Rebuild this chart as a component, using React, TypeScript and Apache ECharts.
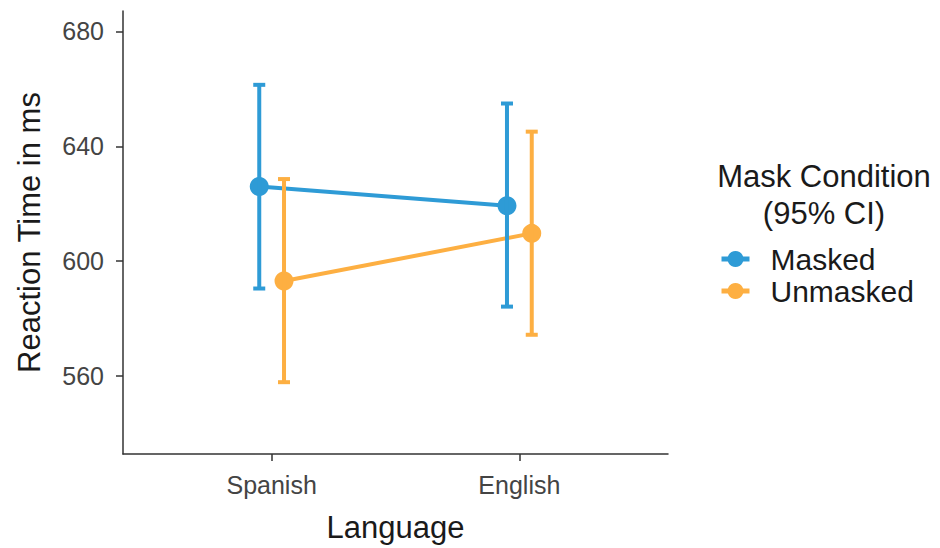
import React, { useEffect, useRef } from "react";
import * as echarts from "echarts";

const languages = ["Spanish", "English"];
const conditions = ["Masked", "Unmasked"];
const dodge = [-0.05, 0.05];
const means = [
  [626.0, 619.3],
  [593.1, 609.7],
];
const lower = [
  [590.5, 584.2],
  [557.9, 574.4],
];
const upper = [
  [661.4, 654.9],
  [628.6, 645.1],
];
const yTicks = [560, 600, 640, 680];
const legendTitle = ["Mask Condition", "(95% CI)"];
const colors = ["#2E9BD6", "#FDAF42"];

export default function App() {
  const ref = useRef<HTMLDivElement>(null);
  useEffect(() => {
    document.body.style.margin = "0";
    if (!ref.current) return;
    const chart = echarts.init(ref.current, null, { renderer: "svg" });
    const font = "Liberation Sans, Arial, sans-serif";
    const lineSeries: any[] = conditions.map((c, ci) => ({
      name: c,
      type: "line",
      z: 1,
      data: languages.map((_, li) => [li + 1 + dodge[ci], means[ci][li]]),
      symbol: "circle",
      symbolSize: 19,
      lineStyle: { width: 4, color: colors[ci] },
      itemStyle: { color: colors[ci] },
    }));
    const errSeries: any[] = conditions.map((c, ci) => ({
      name: c,
      type: "custom",
      z: 2,
      data: languages.map((_, li) => [li + 1 + dodge[ci], lower[ci][li], upper[ci][li]]),
      renderItem: (params: any, api: any) => {
        const x = api.value(0);
        const lo = api.coord([x, api.value(1)]);
        const hi = api.coord([x, api.value(2)]);
        const hw = 6;
        const st = { stroke: colors[ci], lineWidth: 4 };
        return {
          type: "group",
          children: [
            { type: "line", shape: { x1: lo[0], y1: lo[1], x2: hi[0], y2: hi[1] }, style: st },
            { type: "line", shape: { x1: lo[0] - hw, y1: lo[1], x2: lo[0] + hw, y2: lo[1] }, style: st },
            { type: "line", shape: { x1: hi[0] - hw, y1: hi[1], x2: hi[0] + hw, y2: hi[1] }, style: st },
          ],
        };
      },
    }));
    chart.setOption({
      animation: false,
      backgroundColor: "#ffffff",
      textStyle: { fontFamily: font },
      grid: { left: 123, right: 272, top: 11, bottom: 90, containLabel: false },
      legend: {
        data: conditions,
        orient: "vertical",
        left: 714,
        top: 238,
        itemWidth: 28,
        itemHeight: 20,
        itemGap: 0,
        lineStyle: { width: 5 },
        textStyle: { fontSize: 30, lineHeight: 32, color: "#1a1a1a", fontFamily: font, padding: [0, 0, 0, 16] },
      },
      graphic: legendTitle.map((t, i) => ({
        type: "text",
        x: 824,
        y: 176 + i * 37,
        style: {
          text: t,
          fontSize: 31,
          fill: "#1a1a1a",
          fontFamily: font,
          align: "center",
          verticalAlign: "middle",
        },
      })),
      xAxis: {
        type: "value",
        min: 0.4,
        max: 2.6,
        name: "Language",
        nameLocation: "middle",
        nameGap: 58,
        nameTextStyle: { fontSize: 31, color: "#1a1a1a" },
        axisLine: { lineStyle: { color: "#333", width: 1.5 } },
        axisTick: { show: true, length: 7, customValues: [1, 2], lineStyle: { color: "#333", width: 1.5 } },
        axisLabel: {
          customValues: [1, 2],
          fontSize: 25,
          color: "#444",
          margin: 18,
          formatter: (v: number) => languages[Math.round(v) - 1] ?? "",
        },
        splitLine: { show: false },
      },
      yAxis: {
        type: "value",
        min: 532.9,
        max: 687.1,
        name: "Reaction Time in ms",
        nameLocation: "middle",
        nameGap: 78,
        nameTextStyle: { fontSize: 31, color: "#1a1a1a" },
        axisLine: { show: true, lineStyle: { color: "#333", width: 1.5 } },
        axisTick: { show: true, length: 7, customValues: yTicks, lineStyle: { color: "#333", width: 1.5 } },
        axisLabel: { customValues: yTicks, fontSize: 25, color: "#444", margin: 19 },
        splitLine: { show: false },
      },
      series: [...lineSeries, ...errSeries],
    });
    return () => chart.dispose();
  }, []);
  return <div ref={ref} style={{ width: 940, height: 548 }} />;
}
